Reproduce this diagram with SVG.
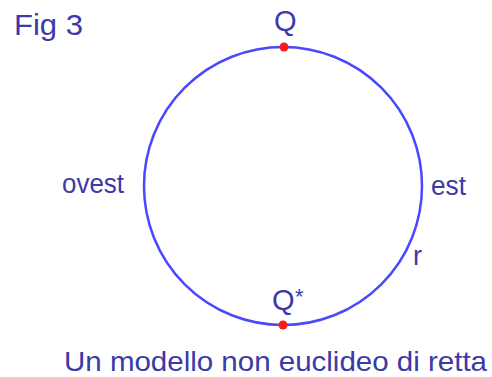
<svg xmlns="http://www.w3.org/2000/svg" width="492" height="377" viewBox="0 0 492 377">
<style>
.t{font-family:"Liberation Sans",Arial,sans-serif;fill:#3a3aa8}
.pt{fill:#ff1a1a}
</style>
<rect width="492" height="377" fill="#ffffff"/>
<text class="t" x="14" y="35" font-size="30" textLength="69" lengthAdjust="spacingAndGlyphs">Fig 3</text>
<g id="circle">
<circle cx="283" cy="186" r="139" fill="none" stroke="#4848ff" stroke-width="2.5"/>
</g>
<g id="Q">
<circle class="pt" cx="284" cy="47" r="4.5"/>
<text class="t" x="274" y="31" font-size="29">Q</text>
</g>
<g id="Qstar">
<circle class="pt" cx="283" cy="325" r="4.5"/>
<text class="t" x="272" y="310" font-size="29">Q</text>
<text class="t" x="295" y="304" font-size="22">*</text>
</g>
<g id="ovest">
<text class="t" x="62" y="193" font-size="27" textLength="62" lengthAdjust="spacingAndGlyphs">ovest</text>
</g>
<g id="est">
<text class="t" x="431" y="195" font-size="27" textLength="35" lengthAdjust="spacingAndGlyphs">est</text>
</g>
<g id="r">
<text class="t" x="413" y="265" font-size="27">r</text>
</g>
<text class="t" x="64" y="371" font-size="28" textLength="423" lengthAdjust="spacingAndGlyphs">Un modello non euclideo di retta</text>
</svg>
